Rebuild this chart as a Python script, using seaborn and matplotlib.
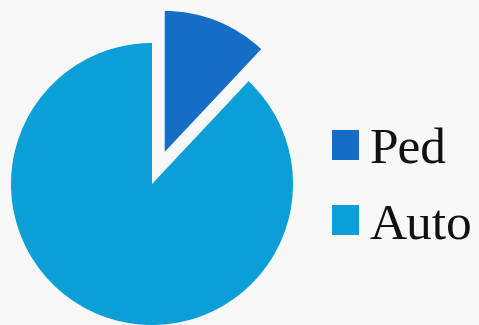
import matplotlib
matplotlib.use("Agg")
import matplotlib.pyplot as plt
import seaborn as sns

# Share of crashes by type
labels = ["Ped", "Auto"]
shares = [12, 88]
colors = ["#166dc6", "#0a9fd7"]
explode = [34.5, 0.0]

sns.set_theme(style="white")
plt.rcParams["font.family"] = ["Liberation Serif", "DejaVu Serif"]

fig = plt.figure(figsize=(4.79, 3.25), dpi=100, facecolor="#f8f8f8")
ax = fig.add_axes([0, 0, 1, 1])
ax.set_facecolor("#f8f8f8")

wedges, _ = ax.pie(
    shares,
    colors=colors,
    explode=explode,
    startangle=90,
    counterclock=False,
    center=(152, 141),
    radius=141,
    frame=True,
    wedgeprops=dict(linewidth=0),
)
ax.set_xlim(0, 479)
ax.set_ylim(0, 325)
ax.set_aspect("equal")
ax.axis("off")

leg = ax.legend(
    wedges, labels,
    loc="center left",
    bbox_to_anchor=(0.64, 0.42),
    frameon=False,
    fontsize=37,
    handlelength=0.52,
    handleheight=0.52,
    handletextpad=0.2,
    labelspacing=0.55,
    borderpad=0,
)
for t in leg.get_texts():
    t.set_color("#111111")

fig.savefig("out.png", dpi=100, facecolor=fig.get_facecolor())
